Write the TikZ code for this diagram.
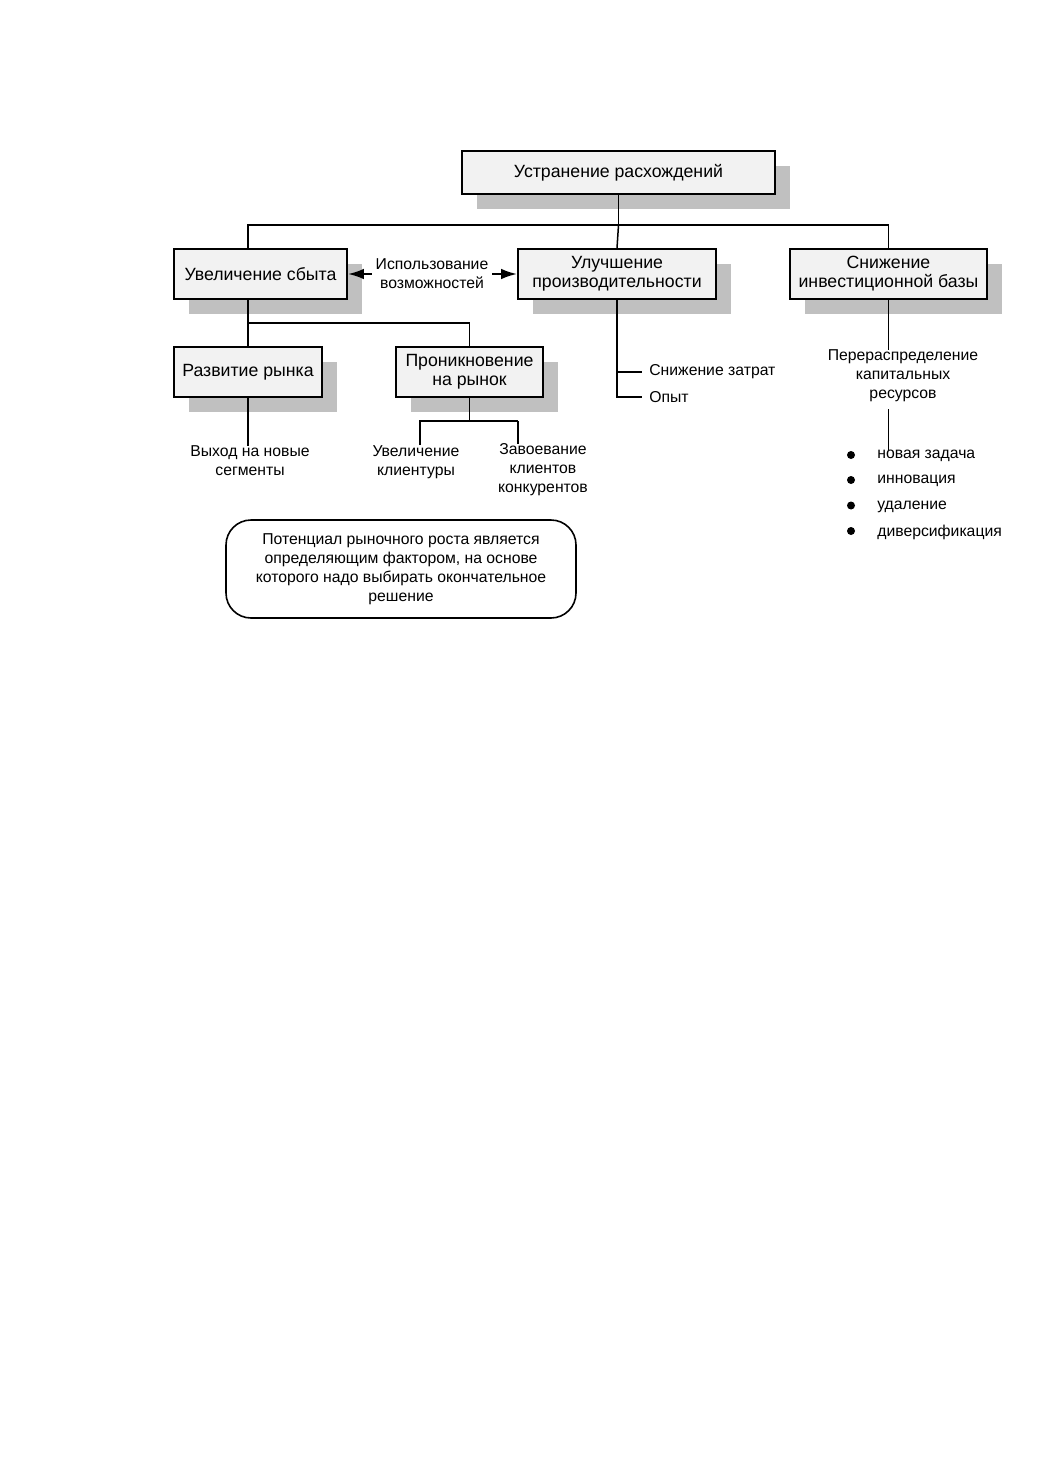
\documentclass[tikz,border=0pt]{standalone}
\usepackage{fontspec}
\setmainfont{Liberation Sans}
\usetikzlibrary{shadows,arrows.meta}
\newdimen\px \px=0.565pt
\definecolor{boxfill}{HTML}{F2F2F2}
\definecolor{shade}{HTML}{C0C0C0}
\tikzset{
  box/.style={draw, line width=1.1pt, fill=boxfill, align=center, inner sep=0pt,
    font=\fontsize{10}{10.7}\selectfont,
    general shadow={fill=shade, shadow xshift=15\px, shadow yshift=-15\px}},
  ln/.style={line width=0.85pt},
  lbl/.style={align=center, inner sep=0pt},
  dot/.style={circle, fill=black, inner sep=0pt, minimum size=8\px},
}
\begin{document}
\begin{tikzpicture}[x=0.565pt,y=-0.565pt, font=\fontsize{8.9}{10.7}\selectfont]
\useasboundingbox (0,0) rectangle (1053,1457);
% boxes
\node[box, minimum width=313\px, minimum height=43\px] (top) at (618.5,172.5) {Устранение расхождений};
\node[box, minimum width=173\px, minimum height=50\px] (sbyt) at (260.5,274) {Увеличение сбыта};
\node[box, minimum width=198\px, minimum height=50\px] (prod) at (617,274) {Улучшение\\производительности};
\node[box, minimum width=197\px, minimum height=50\px] (sninv) at (888.5,274) {Снижение\\инвестиционной базы};
\node[box, minimum width=148\px, minimum height=50\px] (razv) at (248,372) {Развитие рынка};
\node[box, minimum width=147\px, minimum height=50\px] (pron) at (469.5,372) {Проникновение\\на рынок};
% labels
\node[lbl, inner xsep=2pt] (isp) at (432,274) {Использование\\возможностей};
\node[lbl] (vyh) at (250,461) {Выход на новые\\сегменты};
\node[lbl] (uvk) at (416,462) {Увеличение\\клиентуры};
\node[lbl] (zav) at (543,470) {Завоевание\\клиентов\\конкурентов};
\node[lbl, anchor=west, inner xsep=7\px] (zatr) at (642,372) {Снижение затрат};
\node[lbl, anchor=west, inner xsep=7\px] (opyt) at (642,397) {Опыт};
\node[lbl] (perer) at (903,376) {Перераспределение\\капитальных\\ресурсов};
\node[lbl, anchor=west] (i1) at (877,456) {новая задача};
\node[lbl, anchor=west] (i2) at (877,481) {инновация};
\node[lbl, anchor=west] (i3) at (877,506.5) {удаление};
\node[lbl, anchor=west] (i4) at (877,532) {диверсификация};
\node[dot] (d1) at (851,455) {};
\node[dot] (d2) at (851,480) {};
\node[dot] (d3) at (851,505.5) {};
\node[dot] (d4) at (851,531) {};
\node[draw, line width=0.9pt, rounded corners=25\px, minimum width=350\px, minimum height=98\px, align=center, inner sep=0pt] (note) at (401,569)
  {Потенциал рыночного роста является\\определяющим фактором, на основе\\которого надо выбирать окончательное\\решение};
% coordinates
\coordinate (busL) at (248,225);
\coordinate (busR) at (888.5,225);
\coordinate (j1) at (248,323);
\coordinate (f2) at (469.5,421);
\coordinate (fl) at (420,421);
\coordinate (fr) at (518,421);
% connectors
\draw[ln] (top.south) -- (top.south |- busL);
\draw[ln] (busL |- sbyt.north) -- (busL) -- (busR) -- (sninv.north);
\draw[ln] (top.south |- busL) -- (prod.north);
\draw[ln] (razv.north |- sbyt.south) -- (razv.north);
\draw[ln] (j1) -| (pron.north);
\draw[ln] (razv.south) -- (razv.south |- vyh.north);
\draw[ln] (pron.south) -- (f2);
\draw[ln] (uvk.north -| fl) -- (fl) -- (fr);
\draw[line width=1.3pt] (fr) -- (zav.north -| fr);
\draw[ln] (prod.south) |- (opyt.west);
\draw[ln] (prod.south |- zatr.west) -- (zatr.west);
\draw[ln] (sninv.south) -- (sninv.south |- perer.north);
\draw[ln] ([yshift=-7\px]sninv.south |- perer.south) -- (sninv.south |- i1.north);
\draw[line width=1.2pt, -{Latex[length=9pt,width=6pt]}] (isp.west) -- (sbyt.east);
\draw[line width=1.2pt, -{Latex[length=9pt,width=6pt]}] (isp.east) -- (prod.west);
\end{tikzpicture}
\end{document}
